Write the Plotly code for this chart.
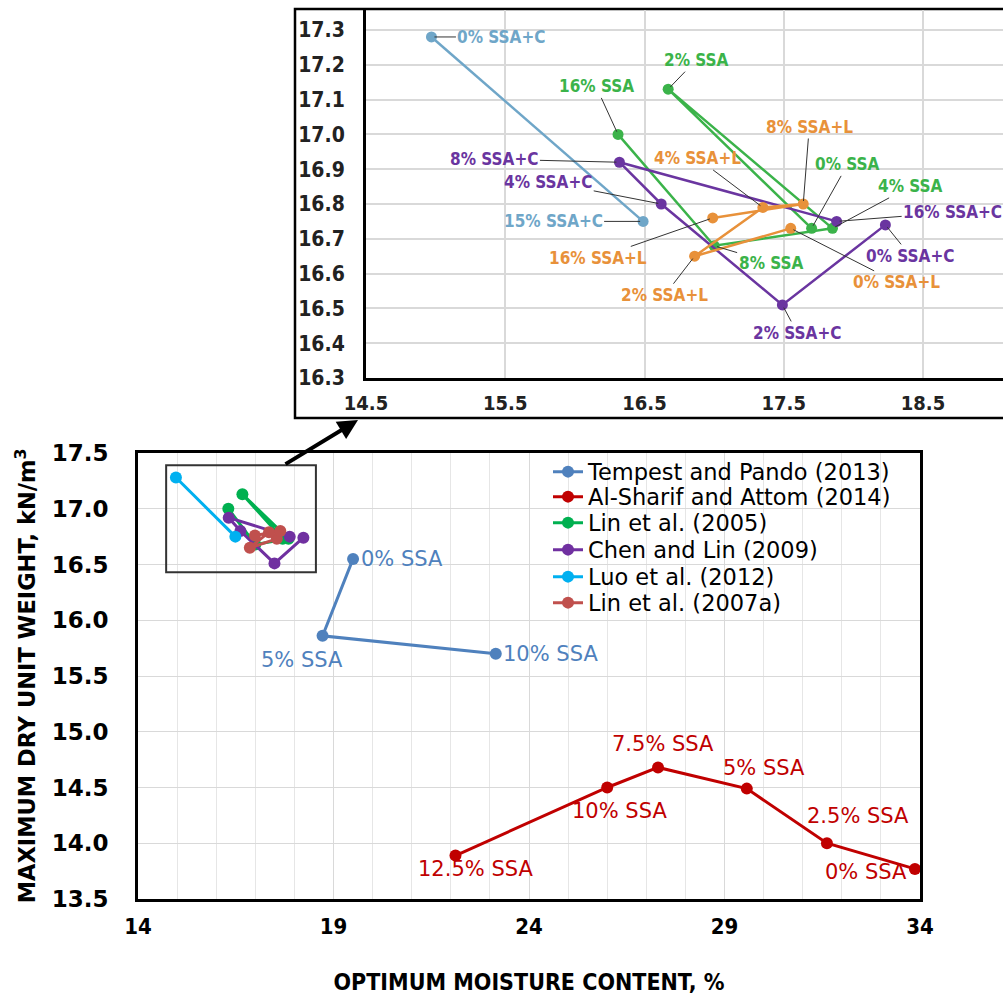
import plotly.graph_objects as go

W, H = 1003, 998

# ---------------- data (main chart) ----------------
tempest_x = [19.5, 18.72, 23.15]
tempest_y = [16.55, 15.86, 15.70]
tempest_lab = ["0% SSA", "5% SSA", "10% SSA"]

sharif_x = [22.12, 26.0, 27.3, 29.57, 31.62, 33.87]
sharif_y = [13.89, 14.50, 14.68, 14.49, 14.00, 13.77]
sharif_lab = ["12.5% SSA", "10% SSA", "7.5% SSA", "5% SSA", "2.5% SSA", "0% SSA"]

lin05_x = [17.70, 16.67, 17.85, 17.00, 16.31]
lin05_y = [16.73, 17.13, 16.73, 16.68, 17.00]
lin05_lab = ["0% SSA", "2% SSA", "4% SSA", "8% SSA", "16% SSA"]

chen_x = [18.23, 17.49, 16.62, 16.32, 17.88]
chen_y = [16.74, 16.51, 16.80, 16.92, 16.75]
chen_lab = ["0% SSA+C", "2% SSA+C", "4% SSA+C", "8% SSA+C", "16% SSA+C"]

luo_x = [14.97, 16.49]
luo_y = [17.28, 16.75]
luo_lab = ["0% SSA+C", "15% SSA+C"]

lin07_x = [17.55, 16.86, 17.35, 17.64, 16.99]
lin07_y = [16.73, 16.65, 16.79, 16.80, 16.76]
lin07_lab = ["0% SSA+L", "2% SSA+L", "4% SSA+L", "8% SSA+L", "16% SSA+L"]

series_names = ["Tempest and Pando (2013)", "Al-Sharif and Attom (2014)", "Lin et al. (2005)",
                "Chen and Lin (2009)", "Luo et al. (2012)", "Lin et al. (2007a)"]

x_ticks_main = [14, 19, 24, 29, 34]
y_ticks_main = [13.5, 14.0, 14.5, 15.0, 15.5, 16.0, 16.5, 17.0, 17.5]
x_ticks_inset = [14.5, 15.5, 16.5, 17.5, 18.5]
y_ticks_inset = [16.3, 16.4, 16.5, 16.6, 16.7, 16.8, 16.9, 17.0, 17.1, 17.2, 17.3]

# ---------------- styles ----------------
main_colors = ["#4F81BD", "#C00000", "#00B050", "#7030A0", "#00B0F0", "#C0504D"]
inset_colors = {"lin05": "#3BB34A", "chen": "#6A35A0", "luo": "#6FA6C8", "lin07": "#E8913A"}

FONT = "DejaVu Sans"
NARROW = "Liberation Sans Narrow, DejaVu Sans Condensed, DejaVu Sans"

fig = go.Figure()

legend_ids = ["legend", "legend2", "legend3", "legend4", "legend5", "legend6"]
main_sets = [(tempest_x, tempest_y), (sharif_x, sharif_y), (lin05_x, lin05_y),
             (chen_x, chen_y), (luo_x, luo_y), (lin07_x, lin07_y)]
for (xs, ys), name, col, lg in zip(main_sets, series_names, main_colors, legend_ids):
    fig.add_trace(go.Scatter(x=xs, y=ys, mode="lines+markers", name=name,
                             line=dict(color=col, width=3),
                             marker=dict(color=col, size=12),
                             xaxis="x", yaxis="y", legend=lg))

inset_sets = [("luo", luo_x, luo_y), ("lin05", lin05_x, lin05_y),
              ("chen", chen_x, chen_y), ("lin07", lin07_x, lin07_y)]
for key, xs, ys in inset_sets:
    col = inset_colors[key]
    fig.add_trace(go.Scatter(x=xs, y=ys, mode="lines+markers", showlegend=False,
                             line=dict(color=col, width=2.5),
                             marker=dict(color=col, size=11),
                             xaxis="x2", yaxis="y2", hoverinfo="skip"))

annotations = []
# main labels (offsets in pixels)
tempest_off = [(6, 0, "left"), (-21, -24, "center"), (5, 0, "left")]
for x, y, t, (dx, dy, xa) in zip(tempest_x, tempest_y, tempest_lab, tempest_off):
    annotations.append(dict(x=x, y=y, xref="x", yref="y", text=t, showarrow=False,
                            xanchor=xa, yanchor="middle", xshift=dx, yshift=dy,
                            font=dict(family=FONT, size=21, color=main_colors[0])))
sharif_off = [(20, -13), (12, -23), (5, 23), (17, 21), (31, 27), (-49, -3)]
for x, y, t, (dx, dy) in zip(sharif_x, sharif_y, sharif_lab, sharif_off):
    annotations.append(dict(x=x, y=y, xref="x", yref="y", text=t, showarrow=False,
                            xanchor="center", yanchor="middle", xshift=dx, yshift=dy,
                            font=dict(family=FONT, size=21, color=main_colors[1])))

# inset labels with leader lines (ax, ay pixel offsets)
inset_off = {
    "luo": [(70, 0), (-90, 0)],
    "lin05": [(36, -64), (28, -29), (78, -42), (57, 17), (-22, -48)],
    "chen": [(25, 31), (15, 28), (-113, -22), (-125, -3), (116, -9)],
    "lin07": [(106, 54), (-30, 39), (-65, -49), (6, -77), (-115, 40)],
}
inset_labels = {"luo": luo_lab, "lin05": lin05_lab, "chen": chen_lab, "lin07": lin07_lab}
for key, xs, ys in inset_sets:
    for x, y, t, (ax, ay) in zip(xs, ys, inset_labels[key], inset_off[key]):
        annotations.append(dict(x=x, y=y, xref="x2", yref="y2", text="<b>%s</b>" % t,
                                showarrow=True, arrowhead=0, arrowwidth=1, arrowcolor="#333333",
                                ax=ax, ay=ay, standoff=3,
                                font=dict(family=NARROW, size=17, color=inset_colors[key])))

# arrow from small box to the inset
annotations.append(dict(x=358 / W, y=(H - 420) / H, xref="paper", yref="paper", text="",
                        showarrow=True, arrowhead=2, arrowsize=1, arrowwidth=4,
                        arrowcolor="black", ax=-74, ay=45))

shapes = [
    dict(type="rect", xref="paper", yref="paper", x0=295 / W, x1=1.02,
         y0=(H - 418) / H, y1=(H - 9) / H, line=dict(color="black", width=2.5), layer="below"),
    dict(type="rect", xref="x", yref="y", x0=14.72, x1=18.55, y0=16.43, y1=17.39,
         line=dict(color="#333333", width=2)),
]

# one single-entry legend per row so the row spacing can match the reference
legend_rows = [472, 497, 523, 550, 577, 603]
legend_layout = {}
for lg, row in zip(legend_ids, legend_rows):
    legend_layout[lg] = dict(x=548 / W, y=(H - row) / H, xanchor="left", yanchor="middle",
                             bgcolor="rgba(0,0,0,0)",
                             font=dict(family=FONT, size=22.5, color="black"))

grid = "#d9d9d9"
fig.update_layout(
    width=W, height=H, margin=dict(l=0, r=0, t=0, b=0, autoexpand=False),
    paper_bgcolor="white", plot_bgcolor="white",
    showlegend=True,
    xaxis=dict(domain=[138 / W, 920 / W], range=[14, 34], tickvals=x_ticks_main,
               automargin=False,
               showgrid=True, gridcolor=grid, gridwidth=1,
               minor=dict(dtick=1, tick0=14, showgrid=True, gridcolor="#e6e6e6"),
               showline=True, linecolor="black", linewidth=3, mirror=True, zeroline=False,
               ticks="", ticklabelstandoff=6,
               tickfont=dict(family=NARROW, size=22, color="black", weight="bold"),
               title=dict(text="<b>OPTIMUM MOISTURE CONTENT, %</b>", standoff=36,
                          font=dict(family=NARROW, size=23, color="black")),
               anchor="y"),
    yaxis=dict(domain=[(H - 899) / H, (H - 453) / H], range=[13.5, 17.5],
               tickvals=y_ticks_main, tickformat=".1f", automargin=False,
               showgrid=True, gridcolor=grid, gridwidth=1,
               showline=True, linecolor="black", linewidth=3, mirror=True, zeroline=False,
               ticks="", ticklabelstandoff=22,
               tickfont=dict(family=FONT, size=23, color="black", weight="bold"),
               title=dict(text="<b>MAXIMUM DRY UNIT WEIGHT, kN/m<sup>3</sup></b>", standoff=10,
                          font=dict(family=FONT, size=22.5, color="black")),
               anchor="x"),
    xaxis2=dict(domain=[366 / W, 1.0], range=[14.5, 14.5 + (W - 366) / 139.25],
                tickvals=x_ticks_inset, tickformat=".1f", automargin=False,
                showgrid=True, gridcolor=grid, gridwidth=1.5,
                showline=True, linecolor="black", linewidth=3, mirror=False, zeroline=False,
                ticks="", ticklabelstandoff=5,
                tickfont=dict(family=NARROW, size=20, color="#222222", weight="bold"),
                anchor="y2"),
    yaxis2=dict(domain=[(H - 378) / H, (H - 10) / H], range=[16.3, 16.3 + 368 / 348],
                tickvals=y_ticks_inset, tickformat=".1f", automargin=False,
                showgrid=True, gridcolor=grid, gridwidth=1.5,
                showline=True, linecolor="black", linewidth=3, mirror=False, zeroline=False,
                ticks="", ticklabelstandoff=14,
                tickfont=dict(family=NARROW, size=21, color="#222222", weight="bold"),
                anchor="x2"),
    annotations=annotations, shapes=shapes,
    **legend_layout,
)

fig.write_html("out.html")
